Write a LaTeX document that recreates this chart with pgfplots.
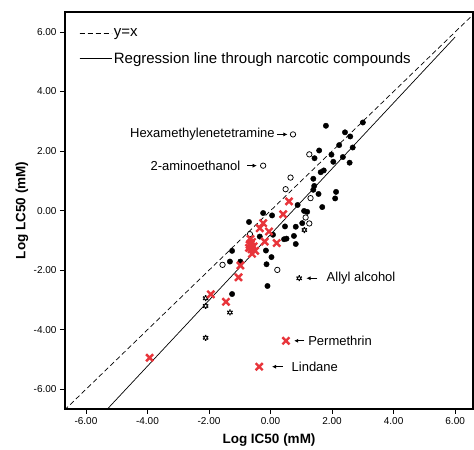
\documentclass[border=0pt]{standalone}
\usepackage{fontspec}
\setmainfont{Liberation Sans}
\usepackage{pgfplots}
\pgfplotsset{compat=1.18}
\usetikzlibrary{arrows.meta}
\definecolor{xred}{RGB}{232,53,59}

\begin{document}
\begin{tikzpicture}
\begin{axis}[scale only axis, width=408pt, height=397pt,
  xmin=-6.68, xmax=6.58, ymin=-6.66, ymax=6.67,
  xtick={-6,-4,...,6}, ytick={-6,-4,...,6},
  tick align=outside, tick pos=left, major tick length=5pt,
  tick style={black, line width=0.8pt},
  axis line style={line width=1.1pt},
  /pgf/number format/assume math mode=true,
  xticklabel style={/pgf/number format/fixed, /pgf/number format/fixed zerofill, /pgf/number format/precision=2},
  yticklabel style={/pgf/number format/fixed, /pgf/number format/fixed zerofill, /pgf/number format/precision=2},
  tick label style={font=\fontsize{10}{10}\selectfont},
  xlabel={\textbf{Log IC50 (mM)}}, ylabel={\textbf{Log LC50 (mM)}},
  every axis x label/.style={at={(axis description cs:0.5,0)}, yshift=-31pt, anchor=center,
    font=\fontsize{13.5}{13.5}\selectfont},
  every axis y label/.style={at={(axis description cs:0,0.5)}, xshift=-43pt, rotate=90, anchor=center,
    font=\fontsize{13.5}{13.5}\selectfont},
  legend style={at={(axis description cs:0,1)}, anchor=north west, xshift=14pt, yshift=-14pt,
    draw=none, fill=none, inner sep=0pt, font=\fontsize{15}{15}\selectfont, row sep=11pt},
  legend cell align=left,
  legend image code/.code={\draw[#1] (0pt,0pt) -- (27pt,0pt); \path (0pt,0pt) -- (32pt,0pt);}]

% reference lines
\addplot[black, line width=0.7pt, dash pattern=on 5pt off 3pt] coordinates {(-6.7,-6.7)(6.7,6.7)};
\addlegendentry{y=x}
\addplot[black, line width=0.7pt] coordinates {(-5.31,-6.67)(6.0,5.83)};
\addlegendentry{Regression line through narcotic compounds}

% filled dots
\addplot[only marks, mark=*, mark size=2.7pt, black, forget plot] coordinates {
  (1.80,2.85)(3.00,2.96)(2.42,2.63)(2.59,2.49)(1.58,2.02)(2.23,2.20)(2.67,2.12)
  (1.98,1.88)(1.43,1.76)(2.04,1.64)(2.35,1.80)(2.57,1.61)(1.63,1.29)(1.73,1.35)
  (1.39,1.07)(1.42,0.83)(1.39,0.70)(1.56,0.56)(2.13,0.63)(2.10,0.41)(1.68,0.12)
  (0.88,0.19)(0.05,-0.16)(1.09,-0.01)(1.19,-0.04)(0.47,-0.53)(0.82,-0.54)
  (1.03,-0.42)(0.44,-0.96)(0.52,-0.94)(0.76,-0.85)(0.82,-1.12)(-0.24,-0.08)
  (-0.70,-0.38)(-0.35,-0.87)(0.08,-0.81)(-0.15,-1.34)(0.03,-1.56)(-1.25,-1.35)
  (-1.32,-1.71)(-0.98,-1.71)(-0.13,-1.80)(-1.25,-2.80)(-0.10,-2.53)};

% open circles
\addplot[only marks, mark=*, mark size=2.7pt, black, mark options={fill=white, line width=0.75pt}, forget plot] coordinates {
  (0.73,2.56)(-0.24,1.51)(1.26,1.89)(0.65,1.11)(0.49,0.72)(1.30,0.42)
  (1.14,-0.23)(1.26,-0.43)(-0.67,-0.79)(-1.56,-1.82)(0.22,-1.99)};

% sun-like marks
\addplot[only marks, mark=asterisk, mark size=3pt, black, mark options={line width=1.3pt}, forget plot] coordinates {
  (1.10,-0.65)(0.93,-2.27)(-2.11,-2.94)(-2.11,-3.20)(-1.32,-3.42)(-2.11,-4.27)};
\addplot[only marks, mark=*, mark size=1.6pt, black, mark options={line width=0.9pt}, forget plot] coordinates {
  (1.10,-0.65)(0.93,-2.27)(-2.11,-2.94)(-2.11,-3.20)(-1.32,-3.42)(-2.11,-4.27)};
\addplot[only marks, mark=*, mark size=0.8pt, white, forget plot] coordinates {
  (1.10,-0.65)(0.93,-2.27)(-2.11,-2.94)(-2.11,-3.20)(-1.32,-3.42)(-2.11,-4.27)};

% red crosses
\addplot[only marks, mark=x, mark size=5pt, xred, mark options={line width=2.4pt}, forget plot] coordinates {
  (0.60,0.31)(0.41,-0.12)(-0.05,-0.70)(0.20,-1.09)(-0.24,-0.42)(-0.35,-0.59)
  (-0.19,-1.04)(-0.65,-0.95)(-0.60,-1.05)(-0.68,-1.15)(-0.55,-1.20)(-0.62,-1.30)
  (-0.70,-1.25)(-0.50,-1.35)(-0.60,-1.45)(-0.65,-1.10)
  (-0.98,-1.84)(-1.04,-2.24)(-1.94,-2.81)(-1.45,-3.06)(-3.93,-4.94)
  (0.50,-4.37)(-0.37,-5.24)};

% annotations
\node[anchor=east, inner sep=0pt, font=\fontsize{13}{13}\selectfont] at (axis cs:0.14,2.56) {Hexamethylenetetramine};
\draw[-{Latex[length=4pt,width=4pt]}, line width=0.6pt] (axis cs:0.22,2.56) -- (axis cs:0.55,2.56);
\node[anchor=east, inner sep=0pt, font=\fontsize{13}{13}\selectfont] at (axis cs:-0.98,1.51) {2-aminoethanol};
\draw[-{Latex[length=4pt,width=4pt]}, line width=0.6pt] (axis cs:-0.75,1.51) -- (axis cs:-0.45,1.51);
\node[anchor=west, inner sep=0pt, font=\fontsize{13}{13}\selectfont] at (axis cs:1.82,-2.27) {Allyl alcohol};
\draw[-{Latex[length=4pt,width=4pt]}, line width=0.6pt] (axis cs:1.52,-2.27) -- (axis cs:1.17,-2.27);
\node[anchor=west, inner sep=0pt, font=\fontsize{13}{13}\selectfont] at (axis cs:1.22,-4.37) {Permethrin};
\draw[-{Latex[length=4pt,width=4pt]}, line width=0.6pt] (axis cs:1.10,-4.37) -- (axis cs:0.77,-4.37);
\node[anchor=west, inner sep=0pt, font=\fontsize{13}{13}\selectfont] at (axis cs:0.68,-5.24) {Lindane};
\draw[-{Latex[length=4pt,width=4pt]}, line width=0.6pt] (axis cs:0.40,-5.24) -- (axis cs:0.05,-5.24);
\end{axis}
\path (-65pt,-37pt) rectangle (409pt,409pt);
\end{tikzpicture}
\end{document}
